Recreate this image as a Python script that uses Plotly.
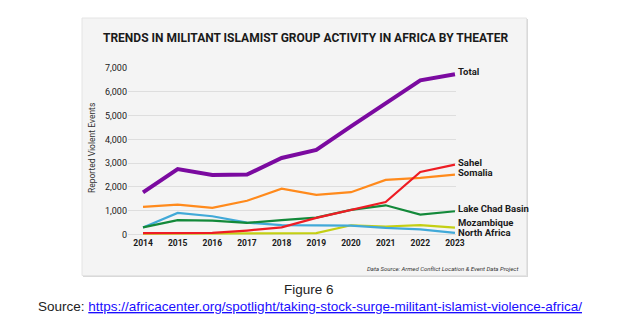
import plotly.graph_objects as go

years = [2014, 2015, 2016, 2017, 2018, 2019, 2020, 2021, 2022, 2023]
total = [1770, 2750, 2500, 2520, 3220, 3560, 4550, 5520, 6480, 6740]
sahel = [60, 60, 70, 170, 300, 700, 1040, 1370, 2630, 2940]
somalia = [1160, 1260, 1120, 1420, 1930, 1670, 1780, 2300, 2380, 2520]
lake_chad = [300, 610, 590, 490, 610, 710, 1040, 1230, 840, 980]
north_africa = [300, 910, 770, 500, 400, 400, 380, 280, 220, 70]
mozambique = [40, 40, 40, 40, 50, 60, 390, 340, 400, 290]

series_names = ["Mozambique", "North Africa", "Lake Chad Basin", "Somalia", "Sahel", "Total"]
series_values = [mozambique, north_africa, lake_chad, somalia, sahel, total]
series_colors = ["#c4cf14", "#41a9d8", "#13893a", "#ff8a1c", "#ee1c24", "#7b0aa0"]
series_widths = [2.2, 2.2, 2.2, 2.2, 2.2, 4]

y_ticks = [0, 1000, 2000, 3000, 4000, 5000, 6000, 7000]
y_tick_labels = ["0", "1,000", "2,000", "3,000", "4,000", "5,000", "6,000", "7,000"]

W, H = 617, 336
L, R, T, B = 128, 456, 68, 236


def px(x):
    return (x - L) / (R - L)


def py(y):
    return (B - y) / (B - T)


fig = go.Figure()
for name, vals, col, w in zip(series_names, series_values, series_colors, series_widths):
    fig.add_trace(go.Scatter(x=years, y=vals, mode="lines", name=name,
                             line=dict(color=col, width=w), showlegend=False,
                             hoverinfo="skip"))

shapes = [
    dict(type="rect", xref="paper", yref="paper", x0=px(83), x1=px(528), y0=py(277), y1=py(19),
         fillcolor="#d9d9d9", line=dict(width=0), layer="below"),
    dict(type="rect", xref="paper", yref="paper", x0=px(82), x1=px(526.5), y0=py(275.5), y1=py(18),
         fillcolor="#f4f4f4", line=dict(color="#e4e4e4", width=1), layer="below"),
]

label_y = {"Total": 71, "Sahel": 162, "Somalia": 172.5, "Lake Chad Basin": 208.5,
           "Mozambique": 222, "North Africa": 232}
annotations = []
for name in series_names:
    annotations.append(dict(text="<b>" + name + "</b>", xref="paper", yref="paper",
                            x=px(456), y=py(label_y[name]), xanchor="left", yanchor="middle",
                            showarrow=False, font=dict(family="Roboto", size=9.5, color="#1a1a1a")))

annotations += [
    dict(text="<b>TRENDS IN MILITANT ISLAMIST GROUP ACTIVITY IN AFRICA BY THEATER</b>",
         xref="paper", yref="paper", x=px(305), y=py(38), xanchor="center", yanchor="middle",
         showarrow=False, font=dict(family="Roboto", size=12, color="#1a1a1a")),
    dict(text="Reported Violent Events", xref="paper", yref="paper", x=px(92), y=py(148),
         xanchor="center", yanchor="middle", textangle=-90, showarrow=False,
         font=dict(family="Roboto", size=8.5, color="#333333")),
    dict(text="<i>Data Source: Armed Conflict Location &amp; Event Data Project</i>",
         xref="paper", yref="paper", x=px(520), y=py(268), xanchor="right", yanchor="middle",
         showarrow=False, font=dict(family="Roboto", size=6, color="#333333")),
    dict(text="Figure 6", xref="paper", yref="paper", x=px(309), y=py(289), xanchor="center",
         yanchor="middle", showarrow=False, font=dict(family="Liberation Sans", size=13.5, color="#222222")),
    dict(text="Source: <a href='https://africacenter.org/spotlight/taking-stock-surge-militant-islamist-violence-africa/' style='color:#1a0dff'><u>https://africacenter.org/spotlight/taking-stock-surge-militant-islamist-violence-africa/</u></a>",
         xref="paper", yref="paper", x=px(310), y=py(306), xanchor="center", yanchor="middle",
         showarrow=False, font=dict(family="Liberation Sans", size=13.5, color="#222222")),
]

fig.update_layout(
    width=W, height=H,
    margin=dict(l=L, r=W - R, t=T, b=H - B, pad=0),
    paper_bgcolor="white", plot_bgcolor="rgba(0,0,0,0)",
    shapes=shapes, annotations=annotations,
    xaxis=dict(range=[2013.567, 2023.03], tickvals=years, ticktext=["<b>%d</b>" % y for y in years],
               showgrid=False, zeroline=False, showline=False, ticks="",
               tickfont=dict(family="Roboto", size=8.5, color="#1a1a1a"), fixedrange=True),
    yaxis=dict(range=[-60, 7000], tickvals=y_ticks, ticktext=y_tick_labels,
               showgrid=True, gridcolor="#dedede", gridwidth=1, zeroline=False, showline=False, ticks="",
               tickfont=dict(family="Roboto", size=9, color="#1a1a1a"), fixedrange=True),
)

fig.write_html("out.html")
